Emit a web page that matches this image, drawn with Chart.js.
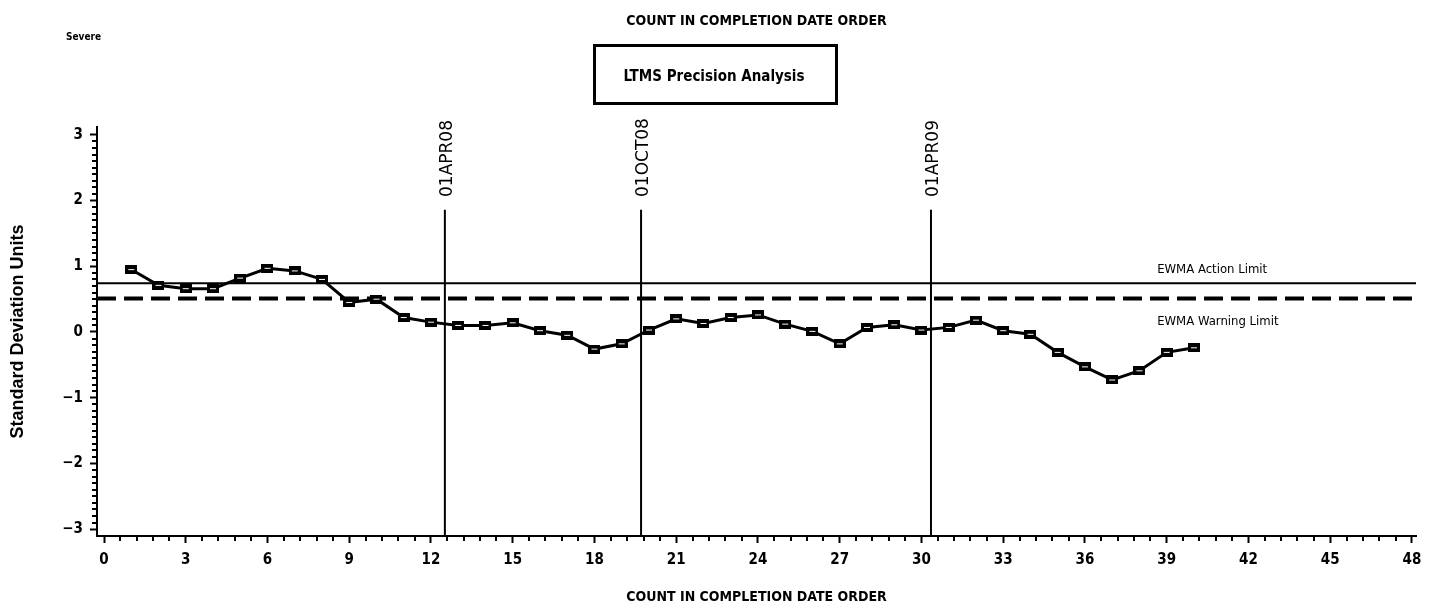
<!DOCTYPE html>
<html>
<head>
<meta charset="utf-8">
<title>LTMS Precision Analysis</title>
<script src="https://cdn.jsdelivr.net/npm/chart.js@4.4.1/dist/chart.umd.min.js"></script>
<style>
  body { margin: 0; background: #fff; }
  #wrap { width: 1431px; height: 607px; }
</style>
</head>
<body>
<div id="wrap"><canvas id="ewmaChart" width="1431" height="607"></canvas></div>
<script>
// count in completion date order and the EWMA values
const counts = [1, 2, 3, 4, 5, 6, 7, 8, 9, 10, 11, 12, 13, 14, 15, 16, 17, 18, 19, 20,
    21, 22, 23, 24, 25, 26, 27, 28, 29, 30, 31, 32, 33, 34, 35, 36, 37, 38, 39, 40];
const ewmaValues = [0.95, 0.71, 0.66, 0.66, 0.82, 0.97, 0.93, 0.80, 0.45, 0.50,
    0.22, 0.15, 0.10, 0.10, 0.14, 0.02, -0.05, -0.26, -0.18, 0.03,
    0.20, 0.13, 0.22, 0.26, 0.12, 0.01, -0.18, 0.07, 0.11, 0.03,
    0.07, 0.18, 0.02, -0.035, -0.31, -0.53, -0.73, -0.59, -0.31, -0.24];

const actionLimit = 0.74;
const warningLimit = 0.51;

const refLabels = ['01APR08', '01OCT08', '01APR09'];
const refCounts = [12.51, 19.71, 30.35];
const refLineTop = 1.86;

const xTicks = [0, 3, 6, 9, 12, 15, 18, 21, 24, 27, 30, 33, 36, 39, 42, 45, 48];
const yTicks = [-3, -2, -1, 0, 1, 2, 3];

const X_MIN = -0.257, X_MAX = 48.15;
const Y_MIN = -3.105, Y_MAX = 3.12;

const narrow = "'Liberation Sans Narrow', 'Arial Narrow', 'DejaVu Sans Condensed', sans-serif";

function makeMarker() {
    const c = document.createElement('canvas');
    c.width = 12;
    c.height = 9;
    const g = c.getContext('2d');
    g.fillStyle = '#000';
    g.fillRect(0, 0, 12, 9);
    g.fillStyle = '#fff';
    g.fillRect(3, 4, 6, 1);
    return c;
}

const ewmaPoints = counts.map((c, i) => ({ x: c, y: ewmaValues[i] }));

const datasets = [
    {
        label: 'EWMA',
        data: ewmaPoints,
        borderColor: '#000',
        borderWidth: 3,
        pointStyle: makeMarker(),
        pointRadius: 5,
        tension: 0
    },
    {
        label: 'EWMA Action Limit',
        data: [{ x: X_MIN, y: actionLimit }, { x: X_MAX, y: actionLimit }],
        borderColor: '#000',
        borderWidth: 2,
        pointRadius: 0
    },
    {
        label: 'EWMA Warning Limit',
        data: [{ x: X_MIN, y: warningLimit }, { x: X_MAX, y: warningLimit }],
        borderColor: '#000',
        borderWidth: 4,
        borderDash: [19, 8],
        pointRadius: 0
    }
];

refCounts.forEach((rc, i) => {
    datasets.push({
        label: refLabels[i],
        data: [{ x: rc, y: Y_MIN }, { x: rc, y: refLineTop }],
        borderColor: '#000',
        borderWidth: 2,
        pointRadius: 0
    });
});

// minor ticks, heading, box and line labels
const extras = {
    id: 'extras',
    afterDraw(chart) {
        const { ctx, chartArea, scales: { x, y } } = chart;
        ctx.save();
        ctx.strokeStyle = '#000';
        ctx.lineWidth = 2;

        ctx.beginPath();
        for (let v = 0; v <= 48.001; v += 0.6) {
            if (Math.abs(v / 3 - Math.round(v / 3)) < 0.01) continue;
            const px = Math.round(x.getPixelForValue(v));
            ctx.moveTo(px, chartArea.bottom);
            ctx.lineTo(px, chartArea.bottom + 5);
        }
        for (let k = -30; k <= 30; k++) {
            if (k % 10 === 0) continue;
            const py = Math.round(y.getPixelForValue(k / 10));
            ctx.moveTo(chartArea.left, py);
            ctx.lineTo(chartArea.left - 5, py);
        }
        ctx.stroke();

        ctx.fillStyle = '#000';
        ctx.textBaseline = 'middle';

        ctx.textAlign = 'center';
        ctx.font = 'bold 14px ' + narrow;
        ctx.fillText('COUNT IN COMPLETION DATE ORDER', (chartArea.left + chartArea.right) / 2, 21);

        ctx.textAlign = 'left';
        ctx.font = 'bold 10px ' + narrow;
        ctx.fillText('Severe', 66, 37);

        ctx.lineWidth = 3;
        ctx.strokeRect(594.5, 45.5, 242, 58);
        ctx.textAlign = 'center';
        ctx.font = 'bold 15px ' + narrow;
        ctx.fillText('LTMS Precision Analysis', 714, 77);

        ctx.font = "17px 'DejaVu Sans', sans-serif";
        refLabels.forEach((lbl, i) => {
            const px = x.getPixelForValue(refCounts[i]);
            ctx.save();
            ctx.translate(px + 3, 197);
            ctx.rotate(-Math.PI / 2);
            ctx.textAlign = 'left';
            ctx.fillText(lbl, 0, 0);
            ctx.restore();
        });

        ctx.textAlign = 'left';
        ctx.font = '13px ' + narrow;
        const lx = x.getPixelForValue(38.65);
        ctx.fillText('EWMA Action Limit', lx, y.getPixelForValue(actionLimit) - 14);
        ctx.fillText('EWMA Warning Limit', lx, y.getPixelForValue(warningLimit) + 23);

        ctx.restore();
    }
};

const ctx = document.getElementById('ewmaChart').getContext('2d');

new Chart(ctx, {
    type: 'line',
    data: { datasets: datasets },
    options: {
        responsive: false,
        animation: false,
        layout: { padding: { top: 127, right: 15, left: 0, bottom: 0 } },
        plugins: {
            legend: { display: false },
            tooltip: { enabled: false }
        },
        scales: {
            x: {
                type: 'linear',
                min: X_MIN,
                max: X_MAX,
                afterBuildTicks: (scale) => { scale.ticks = xTicks.map(v => ({ value: v })); },
                afterFit: (scale) => { scale.height = 71; },
                grid: {
                    drawOnChartArea: false,
                    drawTicks: true,
                    tickLength: 7,
                    tickWidth: 2,
                    tickColor: '#000'
                },
                border: { display: true, color: '#000', width: 2 },
                ticks: {
                    color: '#000',
                    padding: 8,
                    maxRotation: 0,
                    autoSkip: false,
                    font: { family: narrow, size: 15, weight: 'bold' },
                    callback: (v) => String(v)
                },
                title: {
                    display: true,
                    text: 'COUNT IN COMPLETION DATE ORDER',
                    color: '#000',
                    font: { family: narrow, size: 14, weight: 'bold' },
                    padding: { top: 0, bottom: 1 }
                }
            },
            y: {
                type: 'linear',
                min: Y_MIN,
                max: Y_MAX,
                afterBuildTicks: (scale) => { scale.ticks = yTicks.map(v => ({ value: v })); },
                afterFit: (scale) => { scale.width = 97; },
                grid: {
                    drawOnChartArea: false,
                    drawTicks: true,
                    tickLength: 7,
                    tickWidth: 2,
                    tickColor: '#000'
                },
                border: { display: true, color: '#000', width: 2 },
                ticks: {
                    color: '#000',
                    padding: 7,
                    autoSkip: false,
                    font: { family: narrow, size: 15, weight: 'bold' },
                    callback: (v) => (v < 0 ? '\u2212' + Math.abs(v) : String(v))
                },
                title: {
                    display: true,
                    text: 'Standard Deviation Units',
                    color: '#000',
                    font: { family: "'Liberation Sans', Arial, sans-serif", size: 18, weight: 'bold' },
                    padding: { top: 7, bottom: 0 }
                }
            }
        }
    },
    plugins: [extras]
});
</script>
</body>
</html>
